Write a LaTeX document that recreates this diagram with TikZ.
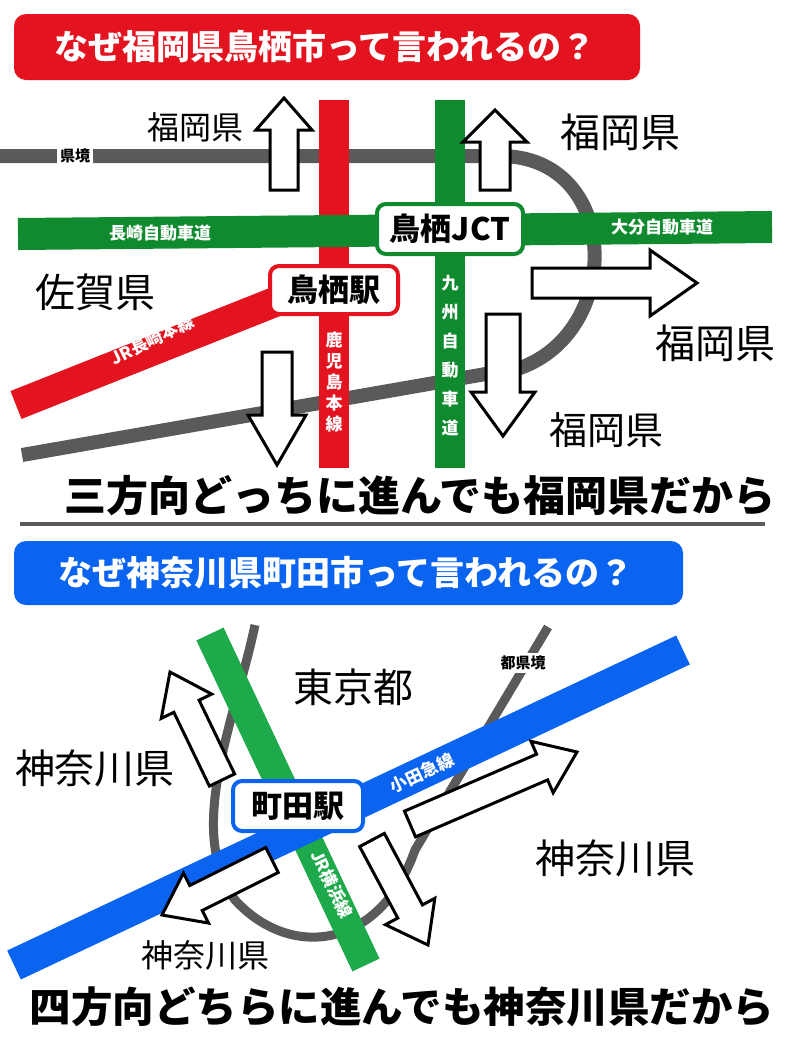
\documentclass[tikz,border=0pt]{standalone}
\usepackage{fontspec}
\setmainfont{Noto Sans CJK JP}
\usetikzlibrary{calc}
\definecolor{rred}{HTML}{E3141F}
\definecolor{rgreen}{HTML}{108A2E}
\definecolor{lgreen}{HTML}{1EAA4A}
\definecolor{rblue}{HTML}{0A64F0}
\definecolor{rgray}{HTML}{5A5A5A}
\newcommand\barrow[5]{% tail, tip, shaft half, head half, head length
  \coordinate (bA) at #1; \coordinate (bB) at #2;
  \coordinate (bH) at ($(bB)!#5pt!(bA)$);
  \draw[arrowbox] ($(bA)!#3pt!90:(bB)$) -- ($(bH)!#3pt!90:(bB)$) -- ($(bH)!#4pt!90:(bB)$) -- (bB)
   -- ($(bH)!#4pt!-90:(bB)$) -- ($(bH)!#3pt!-90:(bB)$) -- ($(bA)!#3pt!-90:(bB)$) -- cycle;}
\tikzset{
  arrowbox/.style={draw=black,fill=white,line width=3pt,line join=miter},
  road/.style={line width=#1},
  lbl/.style={text=white,font=\bfseries\fontsize{17}{17}\selectfont,inner sep=0pt},
  big/.style={font=\fontsize{40}{40}\selectfont,inner sep=0pt},
  mid/.style={font=\fontsize{32}{32}\selectfont,inner sep=0pt},
  stbox/.style={draw=#1,fill=white,line width=4pt,rounded corners=9pt,font=\bfseries\fontsize{31}{31}\selectfont,inner sep=0pt,minimum height=48pt},
  bantext/.style={text=white,font=\bfseries\fontsize{34}{34}\selectfont,inner sep=0pt},
  stmt/.style={font=\bfseries\fontsize{#1}{#1}\selectfont,inner sep=0pt},
}
\begin{document}
\begin{tikzpicture}[x=1pt,y=-1pt]
\useasboundingbox (0,0) rectangle (787,1050);
\fill[white] (0,0) rectangle (787,1050);
% ===== top =====
\fill[rred,rounded corners=12pt] (14,14) rectangle (640,80);
\node[bantext] (t1) at (325,47) {なぜ福岡県鳥栖市って言われるの？};
\draw[rgray,line width=14pt] (0,156) -- (500,156) .. controls (620,156) and (625,330) .. (520,368) -- (22,455);
\node[fill=white,font=\bfseries\fontsize{15}{15}\selectfont,inner sep=3pt] (kk) at (75,156) {県境};
\draw[rred,road=30pt] (334,100) -- (334,468);
\draw[rred,road=30pt] (16,405) -- (300,292);
\draw[rgreen,road=30pt] (450,100) -- (450,468);
\draw[rgreen,road=32pt] (18,234) -- (772,227);
\node[lbl] (nag) at (160,233) {長崎自動車道};
\node[lbl] (oit) at (662,227) {大分自動車道};
\node[lbl,rotate=26] (jrn) at (152,340) {JR長崎本線};
\node[lbl,align=center,font=\bfseries\fontsize{17}{21}\selectfont] (kag) at (334,382) {鹿\\児\\島\\本\\線};
\node[lbl,align=center,font=\bfseries\fontsize{17}{29}\selectfont] (kyu) at (450,356) {九\\州\\自\\動\\車\\道};
\node[stbox=rred,minimum width=128pt] (tosu) at (334,290) {鳥栖駅};
\node[stbox=rgreen,minimum width=146pt,minimum height=50pt] (jct) at (450,229) {鳥栖JCT};
\barrow{(284,190)}{(284,98)}{14}{28}{32}
\barrow{(495,190)}{(495,110)}{15}{32}{32}
\barrow{(532,283)}{(697,283)}{15}{33}{47}
\barrow{(277,352)}{(277,465)}{15}{29}{50}
\barrow{(503,314)}{(503,436)}{17}{32}{44}
\node[mid] (f1) at (195,127) {福岡県};
\node[big] (f2) at (620,132) {福岡県};
\node[big] (sg) at (95,292) {佐賀県};
\node[big] (f3) at (715,343) {福岡県};
\node[font=\fontsize{38}{38}\selectfont,inner sep=0pt] (f4) at (606,430) {福岡県};
\node[stmt=42] (s1) at (420,496) {三方向どっちに進んでも福岡県だから};
\draw[rgray,line width=4pt] (20,524) -- (765,524);
% ===== bottom =====
\fill[rblue,rounded corners=12pt] (14,541) rectangle (683,605);
\node[bantext] (t2) at (346,573) {なぜ神奈川県町田市って言われるの？};
\draw[rgray,line width=9pt] (255,625) .. controls (235,720) and (185,830) .. (235,900) .. controls (290,960) and (380,950) .. (415,850) -- (548,627);
\node[fill=white,font=\bfseries\fontsize{15}{15}\selectfont,inner sep=3pt] (tk) at (523,663) {都県境};
\draw[lgreen,road=30pt] (210,634) -- (366,965);
\draw[rblue,road=32pt] (14,965) -- (683,650);
\node[lbl,rotate=25] (oda) at (422,773) {小田急線};
\node[lbl,rotate=-64] (jry) at (332,884) {JR横浜線};
\node[stbox=rblue,minimum width=130pt,minimum height=50pt] (mch) at (298,806) {町田駅};
\barrow{(222,780)}{(170,672)}{14}{28}{38}
\barrow{(410,824)}{(577,752)}{14}{28}{38}
\barrow{(272,860)}{(162,915)}{14}{28}{38}
\barrow{(372,840)}{(428,945)}{14}{28}{38}
\node[big] (tky) at (353,687) {東京都};
\node[big] (kn1) at (95,768) {神奈川県};
\node[big] (kn2) at (615,858) {神奈川県};
\node[mid] (kn3) at (205,955) {神奈川県};
\node[stmt=41.5] (s2) at (402,1007) {四方向どちらに進んでも神奈川県だから};
\end{tikzpicture}
\end{document}
